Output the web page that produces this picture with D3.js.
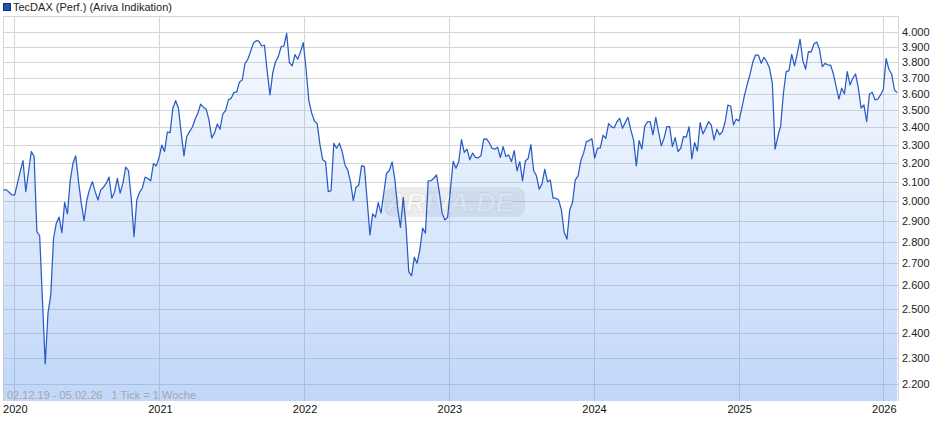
<!DOCTYPE html>
<html><head><meta charset="utf-8">
<script src="https://cdn.jsdelivr.net/npm/d3@7"></script>
<style>body{margin:0;background:#fff}svg{display:block;font-family:"Liberation Sans",Arial,sans-serif}</style>
</head><body><svg id="c" width="940" height="435"></svg>
<script>
// ---- data (weekly closes) ----
const seriesName = "TecDAX (Perf.) (Ariva Indikation)";
const rangeNote = "02.12.19 - 05.02.26   1 Tick = 1 Woche";
const periodStart = "2019-12-02";
const periodEnd = "2026-02-05";
const firstWeek = "2019-12-05";
const close2019 = [3058, 3058, 3046, 3032];
const close2020 = [3032, 3093, 3155, 3214, 3049, 3155, 3264, 3236, 2849, 2829, 2538, 2276, 2481, 2559, 2817, 2890, 2920, 2844, 2994, 2936, 3106, 3199, 3240, 3101, 2990, 2902, 3006, 3062, 3101, 3049, 3006, 3058, 3072, 3093, 3125, 3015, 3049, 3119, 3041, 3093, 3178, 3160, 3015, 2825, 3006, 3045, 3068, 3125, 3118, 3105, 3198, 3185, 3229];
const close2021 = [3300, 3264, 3373, 3370, 3513, 3558, 3513, 3367, 3240, 3348, 3376, 3401, 3448, 3483, 3537, 3519, 3507, 3444, 3340, 3367, 3420, 3390, 3479, 3498, 3563, 3573, 3607, 3611, 3673, 3685, 3791, 3817, 3867, 3922, 3940, 3936, 3904, 3909, 3738, 3593, 3732, 3801, 3834, 3899, 3904, 3989, 3795, 3774, 3847, 3817, 3867, 3926];
const close2022 = [3753, 3557, 3485, 3437, 3422, 3302, 3218, 3208, 3049, 3054, 3310, 3282, 3310, 3264, 3190, 3164, 3101, 3003, 3072, 3084, 3187, 3181, 3006, 2833, 2936, 2920, 2993, 2940, 3041, 3146, 3160, 3207, 3110, 2965, 2869, 3020, 2877, 2662, 2643, 2728, 2700, 2762, 2866, 2841, 3105, 3106, 3119, 3137, 3048, 2941, 2906, 2919];
const close2023 = [3058, 3210, 3173, 3208, 3331, 3259, 3277, 3218, 3255, 3232, 3229, 3240, 3333, 3335, 3313, 3282, 3277, 3288, 3231, 3291, 3236, 3245, 3208, 3269, 3159, 3208, 3105, 3212, 3225, 3302, 3159, 3132, 3062, 3089, 3167, 3101, 3110, 3015, 3015, 3006, 2956, 2846, 2813, 2956, 2993, 3110, 3132, 3214, 3255, 3319, 3325, 3335];
const close2024 = [3227, 3282, 3282, 3355, 3337, 3422, 3405, 3397, 3433, 3453, 3395, 3428, 3459, 3386, 3329, 3185, 3325, 3278, 3405, 3433, 3433, 3358, 3459, 3376, 3295, 3339, 3405, 3405, 3291, 3342, 3264, 3282, 3348, 3345, 3405, 3223, 3314, 3267, 3428, 3363, 3395, 3433, 3415, 3329, 3390, 3358, 3376, 3433, 3531, 3526, 3415, 3448];
const close2025 = [3438, 3514, 3593, 3661, 3723, 3801, 3845, 3843, 3791, 3830, 3801, 3759, 3665, 3277, 3348, 3409, 3603, 3738, 3744, 3849, 3774, 3855, 3949, 3808, 3753, 3867, 3865, 3917, 3930, 3882, 3769, 3791, 3780, 3780, 3723, 3644, 3567, 3634, 3599, 3738, 3654, 3696, 3723, 3634, 3513, 3533, 3433, 3599, 3609, 3563, 3567, 3593];
const close2026 = [3628, 3822, 3753, 3723, 3623, 3607];
const yTickValues = [2200, 2300, 2400, 2500, 2600, 2700, 2800, 2900, 3000, 3100, 3200, 3300, 3400, 3500, 3600, 3700, 3800, 3900, 4000];
const xTickYears = [2020, 2021, 2022, 2023, 2024, 2025, 2026];

// ---- build ----
const parse = d3.timeParse("%Y-%m-%d");
const closes = [].concat(close2019, close2020, close2021, close2022, close2023, close2024, close2025, close2026);
const t0 = parse(firstWeek);
const data = closes.map((v, i) => ({date: d3.timeDay.offset(t0, 7 * i), value: v}));

const frame = {left: 3, right: 898, top: 16, bottom: 401};
const x = d3.scaleTime().domain([parse(periodStart), parse(periodEnd)]).range([2.4, 897.2]);
const y = d3.scaleLog().domain([2137, 4108]).range([frame.bottom, frame.top]);

const de = d3.formatLocale({decimal: ",", thousands: ".", grouping: [3], currency: ["", " €"]});
const fmt = de.format(",.0f");

const svg = d3.select("#c");
svg.append("rect").attr("width", 940).attr("height", 435).attr("fill", "#fff");

const defs = svg.append("defs");
const grad = defs.append("linearGradient").attr("id", "fillGrad")
  .attr("gradientUnits", "userSpaceOnUse").attr("x1", 0).attr("x2", 0)
  .attr("y1", frame.top).attr("y2", frame.bottom);
grad.append("stop").attr("offset", 0).attr("stop-color", "rgb(90,150,240)").attr("stop-opacity", 0.03);
grad.append("stop").attr("offset", 1).attr("stop-color", "rgb(90,150,240)").attr("stop-opacity", 0.38);

const gridColor = "#d6d6d6";
// horizontal grid
svg.append("g").selectAll("line").data(yTickValues).join("line")
  .attr("x1", frame.left).attr("x2", frame.right)
  .attr("y1", d => Math.round(y(d)) + 0.5).attr("y2", d => Math.round(y(d)) + 0.5)
  .attr("stroke", gridColor).attr("stroke-width", 1);
// vertical grid at year starts
const yearDates = xTickYears.map(yr => new Date(yr, 0, 1));
svg.append("g").selectAll("line").data(yearDates).join("line")
  .attr("x1", d => Math.round(x(d)) + 0.5).attr("x2", d => Math.round(x(d)) + 0.5)
  .attr("y1", frame.top).attr("y2", frame.bottom)
  .attr("stroke", gridColor).attr("stroke-width", 1);
// frame
svg.append("path")
  .attr("d", `M${frame.left + 0.5},${frame.bottom}V${frame.top + 0.5}H${frame.right + 0.5}V${frame.bottom}`)
  .attr("fill", "none").attr("stroke", gridColor);

// watermark
const wm = svg.append("g");
wm.append("rect").attr("x", 384).attr("y", 187).attr("width", 141).attr("height", 30).attr("rx", 9)
  .attr("fill", "rgba(140,140,140,0.16)");
wm.append("text").attr("x", 450).attr("y", 212).attr("text-anchor", "middle")
  .attr("font-size", 27).attr("font-weight", "bold").attr("font-style", "italic")
  .attr("fill", "rgba(255,255,255,0.6)").attr("stroke", "rgba(150,150,150,0.2)").attr("stroke-width", 0.8)
  .text("ARIVA.DE");

// area + line
const area = d3.area().x(d => x(d.date)).y0(frame.bottom).y1(d => y(d.value));
svg.append("path").datum(data).attr("d", area).attr("fill", "url(#fillGrad)");
const line = d3.line().x(d => x(d.date)).y(d => y(d.value));
svg.append("path").datum(data).attr("d", line).attr("fill", "none")
  .attr("stroke", "#2a5cc6").attr("stroke-width", 1.25).attr("stroke-linejoin", "round");

// y axis labels
svg.append("g").selectAll("text").data(yTickValues).join("text")
  .attr("x", 902).attr("y", d => y(d) + 4)
  .attr("font-size", 11).attr("fill", "#222").text(d => fmt(d));
// x axis labels
svg.append("g").selectAll("text").data(yearDates).join("text")
  .attr("x", d => x(d) + 1).attr("y", 413).attr("text-anchor", "middle")
  .attr("font-size", 11).attr("fill", "#111").text(d => d3.timeFormat("%Y")(d));

// range note
svg.append("text").attr("x", 7).attr("y", 399).attr("font-size", 11).attr("fill", "#a6a6a6")
  .style("white-space", "pre").text(rangeNote);

// legend
svg.append("rect").attr("x", 3.5).attr("y", 3.5).attr("width", 7).attr("height", 7)
  .attr("fill", "#2352b0").attr("stroke", "#10306e");
svg.append("text").attr("x", 13).attr("y", 11).attr("font-size", 11).attr("fill", "#222").text(seriesName);
</script></body></html>
